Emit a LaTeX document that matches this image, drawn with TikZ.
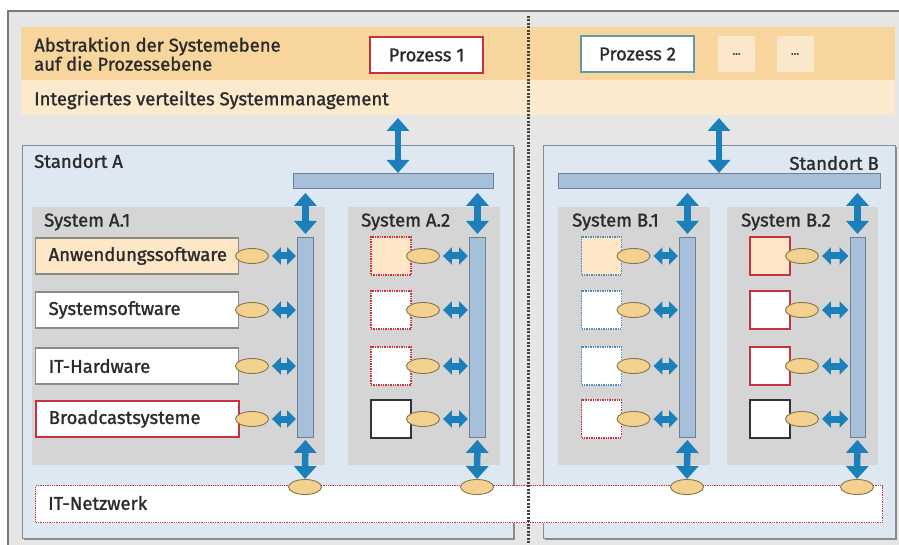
\documentclass[tikz,border=0pt]{standalone}
\usepackage{fontspec}
\setmainfont{Fira Sans}[FakeBold=1.3]
\usetikzlibrary{arrows.meta,shapes.geometric,shadows}
\definecolor{bgc}{HTML}{E6E6E6}
\definecolor{framec}{HTML}{7A7A7A}
\definecolor{bandO}{HTML}{F8D59C}
\definecolor{bandL}{HTML}{FCEACD}
\definecolor{stdf}{HTML}{DDE8F3}
\definecolor{stdb}{HTML}{858C96}
\definecolor{sysf}{HTML}{D5D5D5}
\definecolor{busf}{HTML}{A6BFDB}
\definecolor{busb}{HTML}{6E7F94}
\definecolor{arrb}{HTML}{1B80BA}
\definecolor{ellf}{HTML}{F5D190}
\definecolor{ellb}{HTML}{85764E}
\definecolor{redc}{HTML}{C8323F}
\definecolor{tealc}{HTML}{5E9AAA}
\definecolor{appf}{HTML}{FDE7C6}
\definecolor{txt}{HTML}{2B2B2B}
\definecolor{dotf}{HTML}{FBE7CB}
\definecolor{blued}{HTML}{4F8FBF}
\definecolor{compb}{HTML}{8A8A8A}
\begin{document}
\begin{tikzpicture}[x=1pt,y=-1pt,
  font=\fontsize{18.5}{19}\selectfont, text=txt,
  lbl/.style={inner sep=0pt, anchor=west},
  band/.style={inner sep=0pt, anchor=north west, minimum width=874pt},
  procbox/.style={fill=white, line width=1.8pt, minimum width=113pt, minimum height=36pt, inner sep=0pt},
  dotbox/.style={fill=dotf, minimum width=37pt, minimum height=36pt, inner sep=0pt, font=\fontsize{11}{12}\selectfont},
  standort/.style={draw=stdb, line width=1.2pt, fill=stdf, anchor=north west, minimum height=393pt,
     drop shadow={shadow xshift=1.5pt, shadow yshift=-1.5pt, fill=black!45, opacity=1}},
  sysbox/.style={fill=sysf, anchor=north west, minimum height=258pt, inner sep=0pt},
  bar/.style={draw=busb, line width=0.9pt, fill=busf, anchor=north west, inner sep=0pt},
  comp/.style={draw=compb, line width=1.3pt, fill=white, anchor=west, minimum height=36pt,
     text width=177pt, inner xsep=13pt, inner ysep=0pt, align=left},
  sq/.style={minimum width=40pt, minimum height=38pt, inner sep=0pt, fill=white},
  sqrd/.style={sq, draw=redc, line width=1.4pt, densely dotted},
  sqbd/.style={sq, draw=blued, line width=1.4pt, densely dotted},
  sqrs/.style={sq, draw=redc, line width=2pt},
  sqk/.style={sq, draw=black!80, line width=1.8pt},
  ell/.style={ellipse, draw=ellb, fill=ellf, line width=0.9pt, minimum width=33pt, minimum height=15pt, inner sep=0pt},
  vdarr/.style={draw=arrb, line width=6.5pt, {Triangle[width=22pt,length=13pt]}-{Triangle[width=22pt,length=13pt]}},
  hdarr/.style={draw=arrb, line width=7pt, {Triangle[width=17pt,length=9pt]}-{Triangle[width=17pt,length=9pt]}},
  divider/.style={draw=black!75, line width=3pt, dash pattern=on 2pt off 1.5pt}
]
\useasboundingbox (0,0) rectangle (899,545);
\fill[white] (0,0) rectangle (899,545);
\fill[bgc] (8,11) rectangle (899,545);
\draw[framec, line width=1.5pt] (8,545) -- (8,11) -- (899,11);

% process level bands
\node[band, fill=bandO, minimum height=53pt] (proc) at (21,27) {};
\node[band, fill=bandL, minimum height=35pt] (mgmt) at (21,80) {};
\node[lbl, align=left] (abs) at (34,54) {Abstraktion der Systemebene\\auf die Prozessebene};
\node[lbl] (imgmt) at (34,100) {Integriertes verteiltes Systemmanagement};
\node[procbox, draw=redc] (p1) at (426.5,55) {Prozess 1};
\node[procbox, draw=tealc] (p2) at (637.5,54) {Prozess 2};
\node[dotbox] (d1) at (736.5,54) {...};
\node[dotbox] (d2) at (795,54) {\ldots};

% locations
\node[standort, minimum width=491pt] (sa) at (22,145) {};
\node[standort, minimum width=352pt] (sb) at (543,145) {};
\node[lbl] (saL) at (34,161) {Standort A};
\node[lbl, anchor=east] (sbL) at (879,163) {Standort B};

% site bars
\node[bar, minimum width=200pt, minimum height=15pt] (barA) at (293,173) {};
\node[bar, minimum width=322pt, minimum height=15pt] (barB) at (558,173) {};

% systems
\node[sysbox, minimum width=293pt] (sA1) at (32,207) {};
\node[sysbox, minimum width=152pt] (sA2) at (348,207) {};
\node[sysbox, minimum width=152pt] (sB1) at (558,207) {};
\node[sysbox, minimum width=151pt] (sB2) at (727,207) {};
\node[lbl] (lA1) at (44,222) {System A.1};
\node[lbl] (lA2) at (361,222) {System A.2};
\node[lbl] (lB1) at (572,222) {System B.1};
\node[lbl] (lB2) at (741,222) {System B.2};

% buses
\node[bar, minimum width=16pt, minimum height=200pt] (bA1) at (297,237) {};
\node[bar, minimum width=16pt, minimum height=200pt] (bA2) at (469,237) {};
\node[bar, minimum width=16pt, minimum height=200pt] (bB1) at (679,237) {};
\node[bar, minimum width=15pt, minimum height=200pt] (bB2) at (849.5,237) {};

% components of system A.1
\node[comp, fill=appf] (c1) at (35,256) {Anwendungssoftware};
\node[comp] (c2) at (35,310) {Systemsoftware};
\node[comp] (c3) at (35,366) {IT-Hardware};
\node[comp, draw=redc, line width=1.6pt] (c4) at (35,419) {Broadcastsysteme};

% squares of A.2, B.1, B.2
\node[sqrd, fill=appf] (a1) at (391,256) {};
\node[sqrd] (a2) at (391,310) {};
\node[sqrd] (a3) at (391,366) {};
\node[sqk] (a4) at (391,419) {};
\node[sqbd, fill=appf] (b1) at (601.5,256) {};
\node[sqbd] (b2) at (601.5,310) {};
\node[sqbd] (b3) at (601.5,366) {};
\node[sqrd] (b4) at (601.5,419) {};
\node[sqrs, fill=appf] (e1) at (770,256) {};
\node[sqrs] (e2) at (770,310) {};
\node[sqrs] (e3) at (770,366) {};
\node[sqk] (e4) at (770,419) {};

% interfaces (ellipses) and arrows to buses
\foreach \r/\y in {1/256,2/310,3/366,4/419}{
  \node[ell] (iA1\r) at (252,\y) {};
  \node[ell] (iA2\r) at (423,\y) {};
  \node[ell] (iB1\r) at (633.5,\y) {};
  \node[ell] (iB2\r) at (802,\y) {};
  \draw[hdarr, shorten <=3pt, shorten >=1pt] (iA1\r.east) -- (iA1\r.east -| bA1.west);
  \draw[hdarr, shorten <=3pt, shorten >=1pt] (iA2\r.east) -- (iA2\r.east -| bA2.west);
  \draw[hdarr, shorten <=3pt, shorten >=1pt] (iB1\r.east) -- (iB1\r.east -| bB1.west);
  \draw[hdarr, shorten <=3pt, shorten >=1pt] (iB2\r.east) -- (iB2\r.east -| bB2.west);
}

% network
\node[draw=redc, densely dotted, line width=1.3pt, fill=white, anchor=north west,
      minimum width=847pt, minimum height=37pt, inner sep=0pt] (net) at (35,485) {};
\node[lbl] (netL) at (48,503) {IT-Netzwerk};
\node[ell] (nA1) at (305,487) {};
\node[ell] (nA2) at (477,487) {};
\node[ell] (nB1) at (687,487) {};
\node[ell] (nB2) at (857,487) {};

% bus arrows
\foreach \b/\n/\t in {bA1/nA1/barA, bA2/nA2/barA, bB1/nB1/barB, bB2/nB2/barB}{
  \draw[vdarr, shorten <=3pt, shorten >=4pt] (\b.north) -- (\b.north |- \t.south);
  \draw[vdarr, shorten <=2pt, shorten >=0pt] (\b.south) -- (\n.north);
}

% management to site bars
\coordinate (tA) at (398,118);
\coordinate (tB) at (719,118);
\draw[vdarr, shorten >=0pt] (tA) -- (tA |- barA.north);
\draw[vdarr, shorten >=0pt] (tB) -- (tB |- barB.north);

% divider
\draw[divider] (528,16) -- (528,545);
\end{tikzpicture}
\end{document}
